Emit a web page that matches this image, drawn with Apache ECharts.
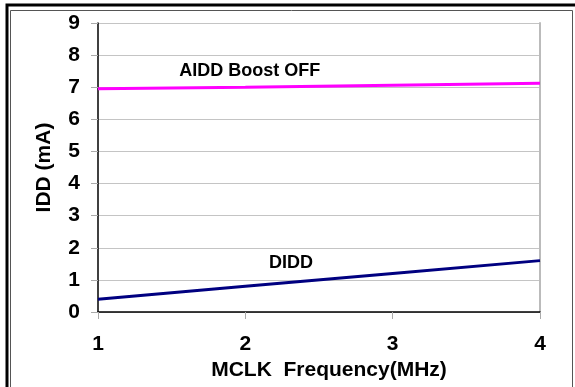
<!DOCTYPE html>
<html>
<head>
<meta charset="utf-8">
<script src="https://cdn.jsdelivr.net/npm/echarts@6/dist/echarts.min.js"></script>
<style>
  html, body { margin: 0; padding: 0; background: #fff; overflow: hidden; }
  #chart { width: 575px; height: 387px; }
</style>
</head>
<body>
<div id="chart"></div>
<script>
// MCLK frequency (MHz)
const freq = [1, 2, 3, 4]
// supply currents (mA)
const aidd = [6.95, 7.0, 7.06, 7.12]
const didd = [0.4, 0.8, 1.2, 1.6]
const yTicks = [0, 9, 1]

const font = '"Liberation Sans", Arial, sans-serif'

const chart = echarts.init(document.getElementById('chart'))

const noteLabel = text => ({
  show: true,
  position: 'inside',
  formatter: text,
  fontSize: 18,
  fontWeight: 'bold',
  fontFamily: font,
  color: '#000'
})

chart.setOption({
  backgroundColor: '#fff',
  animation: false,
  textStyle: { fontFamily: font },
  graphic: [
    {
      type: 'rect',
      shape: { x: 7, y: 5, width: 600, height: 420 },
      style: { fill: 'none', stroke: '#000', lineWidth: 3 },
      silent: true
    },
    {
      type: 'rect',
      shape: { x: 10.5, y: 10.5, width: 562, height: 420 },
      style: { fill: 'none', stroke: '#555', lineWidth: 1 },
      silent: true
    }
  ],
  grid: {
    left: 98,
    right: 35,
    top: 23,
    bottom: 75,
    containLabel: false,
    outerBoundsMode: 'none'
  },
  xAxis: {
    type: 'value',
    min: freq[0],
    max: freq[freq.length - 1],
    interval: 1,
    name: 'MCLK  Frequency(MHz)',
    nameLocation: 'middle',
    nameGap: 46,
    nameTextStyle: {
      fontSize: 21,
      fontWeight: 'bold',
      color: '#000',
      padding: [0, 0, 0, 20]
    },
    axisLine: { lineStyle: { color: '#000', width: 1.5 } },
    axisTick: { show: true, length: 7, lineStyle: { color: '#aaa' } },
    axisLabel: {
      fontSize: 21,
      fontWeight: 'bold',
      color: '#000',
      margin: 22
    },
    splitLine: { show: false }
  },
  yAxis: [
    {
      type: 'value',
      min: yTicks[0],
      max: yTicks[1],
      interval: yTicks[2],
      name: 'IDD (mA)',
      nameLocation: 'middle',
      nameGap: 43,
      nameTextStyle: {
        fontSize: 21,
        fontWeight: 'bold',
        color: '#000'
      },
      axisLine: { show: true, lineStyle: { color: '#000', width: 1.5 } },
      axisTick: { show: true, length: 7, lineStyle: { color: '#aaa' } },
      axisLabel: {
        fontSize: 21,
        fontWeight: 'bold',
        color: '#000',
        margin: 18
      },
      splitLine: { lineStyle: { color: '#c4c4c4', width: 1 } }
    },
    {
      type: 'value',
      min: yTicks[0],
      max: yTicks[1],
      interval: yTicks[2],
      position: 'right',
      axisLine: { show: true, lineStyle: { color: '#bbb', width: 2 } },
      axisTick: { show: false },
      axisLabel: { show: false },
      splitLine: { show: false }
    }
  ],
  series: [
    {
      name: 'AIDD Boost OFF',
      type: 'line',
      data: freq.map((f, i) => [f, aidd[i]]),
      symbol: 'none',
      lineStyle: { color: '#ff00ff', width: 3 },
      markPoint: {
        symbol: 'circle',
        symbolSize: 1,
        itemStyle: { color: 'rgba(0,0,0,0)' },
        data: [{ coord: [2.03, 7.5], value: 1 }],
        label: noteLabel('AIDD Boost OFF')
      }
    },
    {
      name: 'DIDD',
      type: 'line',
      data: freq.map((f, i) => [f, didd[i]]),
      symbol: 'none',
      lineStyle: { color: '#000080', width: 3 },
      markPoint: {
        symbol: 'circle',
        symbolSize: 1,
        itemStyle: { color: 'rgba(0,0,0,0)' },
        data: [{ coord: [2.31, 1.53], value: 1 }],
        label: noteLabel('DIDD')
      }
    }
  ]
})
</script>
</body>
</html>
